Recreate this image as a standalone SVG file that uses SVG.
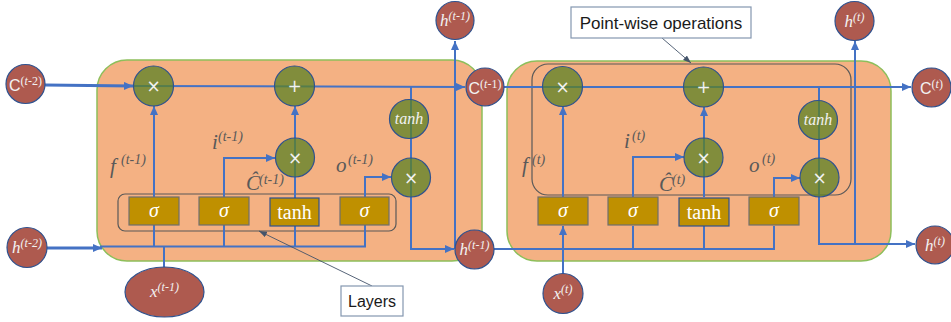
<svg xmlns="http://www.w3.org/2000/svg" width="951" height="322" viewBox="0 0 951 322">
<defs>
<marker id="arr" markerUnits="userSpaceOnUse" markerWidth="9" markerHeight="8" refX="9" refY="4" orient="auto"><path d="M0,0 L9,4 L0,8 z" fill="#4472C4"/></marker>
<marker id="parr" markerUnits="userSpaceOnUse" markerWidth="8" markerHeight="6" refX="8" refY="3" orient="auto"><path d="M0,0 L8,3 L0,6 z" fill="#44546A"/></marker>
<style>
.cell{fill:#F4B183;stroke:#8DBF5B;stroke-width:1.5}
.grp{fill:none;stroke:#595959;stroke-width:1.2}
.ln{fill:none;stroke:#4472C4;stroke-width:2}
.thk{fill:none;stroke:#4472C4;stroke-width:3}
.ptr{fill:none;stroke:#44546A;stroke-width:0.9}
.op{fill:#5B8224;fill-opacity:0.75;stroke:#2F528F;stroke-width:1.2}
.io{fill:#AE5A4F;stroke:#2F528F;stroke-width:1.2}
.gate{fill:#BF9000;stroke:#6F6F6F;stroke-width:1.2}
.gate2{fill:#BF9000;stroke:#2F528F;stroke-width:1.2}
.sym{font-family:"DejaVu Sans","Liberation Sans",sans-serif;font-size:17px;fill:#F2F2F2;text-anchor:middle}
.mth{font-family:"Liberation Serif","Times New Roman",serif;font-style:italic;fill:#F2F2F2;text-anchor:middle}
.gt{font-family:"Liberation Serif","Times New Roman",serif;font-size:20px;fill:#FFFFFF;text-anchor:middle}
.lbl{font-family:"Liberation Serif","Times New Roman",serif;font-style:italic;fill:#595959;font-size:21px}
.sup{font-size:14px}
.note{fill:#FFFFFF;stroke:#8497B0;stroke-width:1.2}
.nt{font-family:"Liberation Sans",Arial,sans-serif;fill:#1A1A1A;text-anchor:middle}
.ct{font-family:"Liberation Sans",Arial,sans-serif;fill:#F2F2F2;text-anchor:middle;font-size:16px}
</style>
</defs>

<g id="cell-left"><rect class="cell" x="97" y="60" width="385" height="201" rx="30"/></g>
<g id="cell-right"><rect class="cell" x="507" y="61" width="384" height="200" rx="30"/></g>
<g id="layers-group"><rect class="grp" x="118" y="194" width="278" height="37" rx="7"/></g>
<g id="pointwise-group"><rect class="grp" x="532" y="64" width="319" height="131" rx="16"/></g>

<g id="connectors">
<path class="thk" d="M45,85 L133,86" marker-end="url(#arr)"/>
<path class="ln" d="M133,86 L465,87" marker-end="url(#arr)"/>
<path class="ln" d="M411,87 L411,249 L454,249" marker-end="url(#arr)"/>
<path class="ln" d="M455,249 L455,41" marker-end="url(#arr)"/>
<path class="ln" d="M154,197 L154,106" marker-end="url(#arr)"/>
<path class="ln" d="M224,197 L224,158 L275,158" marker-end="url(#arr)"/>
<path class="ln" d="M295,198 L295,106" marker-end="url(#arr)"/>
<path class="ln" d="M365,197 L365,177 L391,177" marker-end="url(#arr)"/>
<path class="thk" d="M47,248 L102,248" marker-end="url(#arr)"/>
<path class="ln" d="M100,246.5 L365,246.5 L365,225"/>
<path class="ln" d="M154,225 L154,246.5 M224,225 L224,246.5 M295,226 L295,246.5"/>
<path class="ln" d="M164,267 L164,246.5"/>

<path class="ln" d="M504,87 L911,87" marker-end="url(#arr)"/>
<path class="ln" d="M819,87 L819,244 L915,244" marker-end="url(#arr)"/>
<path class="ln" d="M855,244 L855,41" marker-end="url(#arr)"/>
<path class="ln" d="M563,274 L563,226" marker-end="url(#arr)"/>
<path class="ln" d="M563,197 L563,106" marker-end="url(#arr)"/>
<path class="ln" d="M633,197 L633,157 L684,157" marker-end="url(#arr)"/>
<path class="ln" d="M704,197 L704,107" marker-end="url(#arr)"/>
<path class="ln" d="M774,197 L774,178 L800,178" marker-end="url(#arr)"/>
<path class="ln" d="M494,249 L774,249 L774,226"/>
<path class="ln" d="M633,226 L633,249 M704,226 L704,249"/>

<path class="ptr" d="M372,286 L259,231" marker-end="url(#parr)"/>
<path class="ptr" d="M662,38 L691,63" marker-end="url(#parr)"/>
</g>

<g id="op-forget-left"><circle class="op" cx="153.5" cy="86" r="20"/><text class="sym" x="153.5" y="92">×</text></g>
<g id="op-add-left"><circle class="op" cx="294.5" cy="86" r="20"/><text class="sym" x="294.5" y="92">+</text></g>
<g id="op-input-left"><circle class="op" cx="295" cy="157.5" r="19.5"/><text class="sym" x="295" y="163.5">×</text></g>
<g id="op-tanh-left"><circle class="op" cx="409" cy="119" r="19.5"/><text class="mth" x="409" y="124" font-size="16">tanh</text></g>
<g id="op-output-left"><circle class="op" cx="411" cy="177.5" r="19.5"/><text class="sym" x="411" y="183.5">×</text></g>

<g id="op-forget-right"><circle class="op" cx="562.5" cy="86.5" r="20"/><text class="sym" x="562.5" y="92.5">×</text></g>
<g id="op-add-right"><circle class="op" cx="703.5" cy="87" r="20"/><text class="sym" x="703.5" y="93">+</text></g>
<g id="op-input-right"><circle class="op" cx="703.5" cy="157.5" r="19.5"/><text class="sym" x="703.5" y="163.5">×</text></g>
<g id="op-tanh-right"><circle class="op" cx="818" cy="120" r="19.5"/><text class="mth" x="818" y="125" font-size="16">tanh</text></g>
<g id="op-output-right"><circle class="op" cx="819.5" cy="177.5" r="19.5"/><text class="sym" x="819.5" y="183.5">×</text></g>

<g id="gate-f-left"><rect class="gate" x="129" y="197" width="50" height="28"/><text class="gt" x="154" y="217" font-style="italic">σ</text></g>
<g id="gate-i-left"><rect class="gate" x="199" y="197" width="50" height="28"/><text class="gt" x="224" y="217" font-style="italic">σ</text></g>
<g id="gate-c-left"><rect class="gate2" x="270" y="198" width="49" height="28"/><text class="gt" x="294.5" y="219">tanh</text></g>
<g id="gate-o-left"><rect class="gate" x="340" y="197" width="49" height="28"/><text class="gt" x="364.5" y="217" font-style="italic">σ</text></g>

<g id="gate-f-right"><rect class="gate" x="538" y="197" width="50" height="28"/><text class="gt" x="563" y="217" font-style="italic">σ</text></g>
<g id="gate-i-right"><rect class="gate" x="608" y="197" width="50" height="28"/><text class="gt" x="633" y="217" font-style="italic">σ</text></g>
<g id="gate-c-right"><rect class="gate2" x="679" y="198" width="50" height="28"/><text class="gt" x="704" y="219">tanh</text></g>
<g id="gate-o-right"><rect class="gate" x="749" y="197" width="50" height="28"/><text class="gt" x="774" y="217" font-style="italic">σ</text></g>

<g id="C-t-2"><circle class="io" cx="25.5" cy="84" r="19.5"/><text class="ct" x="25.5" y="90.5">C<tspan dy="-6" font-size="12" font-family="Liberation Serif, serif">(<tspan font-style="italic">t</tspan>-2)</tspan></text></g>
<g id="h-t-2"><circle class="io" cx="27" cy="247.5" r="20"/><text class="mth" x="27" y="253" font-size="17">h<tspan dy="-6" font-size="12">(t-2)</tspan></text></g>
<g id="x-t-1"><ellipse class="io" cx="164.5" cy="292" rx="39.5" ry="25"/><text class="mth" x="164.5" y="297" font-size="17">x<tspan dy="-6" font-size="12">(t-1)</tspan></text></g>
<g id="h-t-1-top"><circle class="io" cx="455" cy="20.5" r="19"/><text class="mth" x="455" y="26" font-size="17">h<tspan dy="-6" font-size="12">(t-1)</tspan></text></g>
<g id="C-t-1"><circle class="io" cx="485" cy="87" r="19"/><text class="ct" x="485" y="93.5">C<tspan dy="-6" font-size="12" font-family="Liberation Serif, serif">(<tspan font-style="italic">t</tspan>-1)</tspan></text></g>
<g id="h-t-1-out"><circle class="io" cx="474.5" cy="249.5" r="19.5"/><text class="mth" x="474.5" y="255" font-size="17">h<tspan dy="-6" font-size="12">(t-1)</tspan></text></g>
<g id="x-t"><circle class="io" cx="563" cy="293.5" r="20"/><text class="mth" x="563" y="299" font-size="17">x<tspan dy="-6" font-size="12">(t)</tspan></text></g>
<g id="h-t-top"><circle class="io" cx="854.5" cy="21" r="19.5"/><text class="mth" x="854.5" y="26.5" font-size="17">h<tspan dy="-6" font-size="12">(t)</tspan></text></g>
<g id="C-t"><circle class="io" cx="931.5" cy="87.5" r="19.5"/><text class="ct" x="931.5" y="94">C<tspan dy="-6" font-size="12" font-family="Liberation Serif, serif">(<tspan font-style="italic">t</tspan>)</tspan></text></g>
<g id="h-t-out"><circle class="io" cx="935" cy="245" r="19"/><text class="mth" x="935" y="250.5" font-size="17">h<tspan dy="-6" font-size="12">(t)</tspan></text></g>

<g id="labels-left">
<text class="lbl" x="110" y="173">f</text><text class="lbl sup" x="121" y="164">(t-1)</text>
<text class="lbl" x="212" y="149">i</text><text class="lbl sup" x="218" y="141">(t-1)</text>
<text class="lbl" x="246" y="190" font-size="18">Ĉ</text><text class="lbl sup" x="259" y="184">(t-1)</text>
<text class="lbl" x="336" y="172">o</text><text class="lbl sup" x="348" y="164">(t-1)</text>
</g>
<g id="labels-right">
<text class="lbl" x="522" y="172">f</text><text class="lbl sup" x="532" y="164">(t)</text>
<text class="lbl" x="624" y="148">i</text><text class="lbl sup" x="632" y="140">(t)</text>
<text class="lbl" x="659" y="191" font-size="18">Ĉ</text><text class="lbl sup" x="672" y="184">(t)</text>
<text class="lbl" x="749" y="172">o</text><text class="lbl sup" x="762" y="163">(t)</text>
</g>

<g id="note-pointwise"><rect class="note" x="571" y="7" width="180" height="31"/><text class="nt" x="661" y="29" font-size="17">Point-wise operations</text></g>
<g id="note-layers"><rect class="note" x="341" y="286" width="62" height="30"/><text class="nt" x="372" y="307" font-size="16">Layers</text></g>
</svg>
